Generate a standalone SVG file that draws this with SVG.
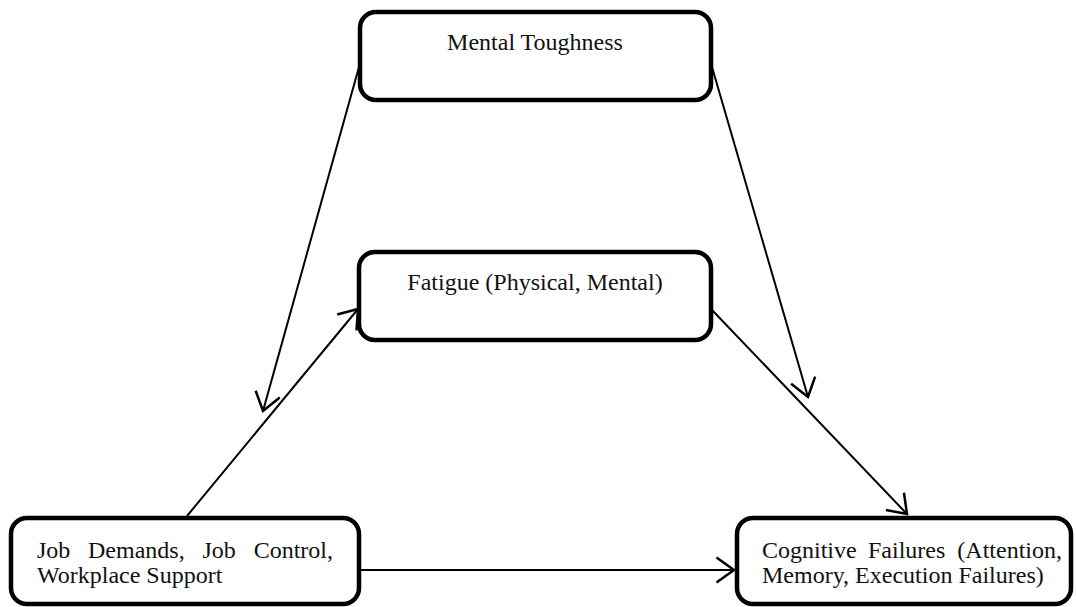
<svg xmlns="http://www.w3.org/2000/svg" width="1076" height="607" viewBox="0 0 1076 607">
  <style>
    .box { fill: #ffffff; stroke: #000000; stroke-width: 4.5; }
    .lbl { font-family: "Liberation Serif", "Times New Roman", serif; font-size: 24px; fill: #111111; }
    .mid { text-anchor: middle; }
    .edge { fill: none; stroke: #000000; stroke-width: 2; marker-end: url(#open-arrow); }
  </style>
  <defs>
    <marker id="open-arrow" markerUnits="userSpaceOnUse" markerWidth="30" markerHeight="30" viewBox="-16 -12 20 24" refX="0" refY="0" orient="auto" overflow="visible">
      <path d="M -14,-10 L 0,0 L -14,10" fill="none" stroke="#000000" stroke-width="2" stroke-linejoin="miter"/>
    </marker>
  </defs>
  <rect width="1076" height="607" fill="#ffffff"/>

  <!-- connectors -->
  <g id="connectors">
    <line class="edge" x1="359" y1="67" x2="263" y2="411"/>
    <line class="edge" x1="712" y1="67" x2="808" y2="397"/>
    <line class="edge" x1="187" y1="516" x2="358" y2="309"/>
    <line class="edge" x1="712" y1="310" x2="907" y2="514"/>
    <line class="edge" x1="360" y1="570" x2="734" y2="570"/>
  </g>

  <!-- nodes -->
  <g id="mental-toughness">
    <rect class="box" x="360" y="12" width="351" height="88" rx="16" ry="16"/>
    <text class="lbl mid" x="535" y="50">Mental Toughness</text>
  </g>

  <g id="fatigue">
    <rect class="box" x="359" y="252" width="352" height="88" rx="16" ry="16"/>
    <text class="lbl mid" x="535" y="290">Fatigue (Physical, Mental)</text>
  </g>

  <!-- first lines are justified: each word placed on its own -->
  <g id="job-factors">
    <rect class="box" x="11" y="518" width="348" height="86" rx="16" ry="16"/>
    <text class="lbl" y="558">
      <tspan x="37">Job</tspan>
      <tspan x="88">Demands,</tspan>
      <tspan x="202.5">Job</tspan>
      <tspan x="333" text-anchor="end">Control,</tspan>
    </text>
    <text class="lbl" x="37" y="583">Workplace Support</text>
  </g>

  <g id="cognitive-failures">
    <rect class="box" x="737" y="518" width="334" height="86" rx="16" ry="16"/>
    <text class="lbl" y="558">
      <tspan x="762">Cognitive</tspan>
      <tspan x="868">Failures</tspan>
      <tspan x="1062" text-anchor="end">(Attention,</tspan>
    </text>
    <text class="lbl" x="762" y="583">Memory, Execution Failures)</text>
  </g>
</svg>
